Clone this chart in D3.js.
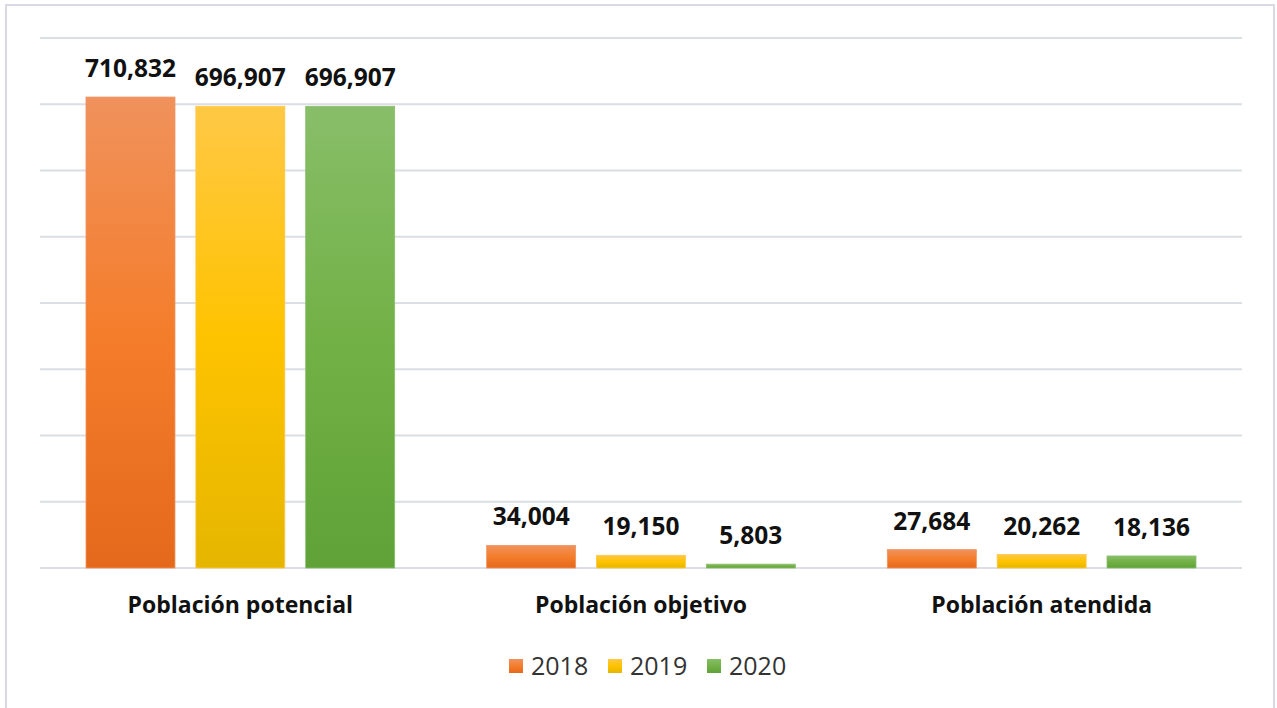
<!DOCTYPE html>
<html><head><meta charset="utf-8">
<script src="https://cdn.jsdelivr.net/npm/d3@7"></script>
<style>body{margin:0;background:#fff;}svg{display:block;}</style>
</head><body>
<svg id="c" width="1277" height="708"></svg>
<script>
const categories = ["Población potencial", "Población objetivo", "Población atendida"];
const years = ["2018", "2019", "2020"];
const values2018 = [710832, 34004, 27684];
const values2019 = [696907, 19150, 20262];
const values2020 = [696907, 5803, 18136];
const yTicks = [0,100000,200000,300000,400000,500000,600000,700000,800000];
const seriesValues = [values2018, values2019, values2020];
const colors = [
  ["#F0925C","#F47D2B","#E5691C"],
  ["#FFC845","#FEC300","#E5B600"],
  ["#88BE69","#72B146","#60A238"]
];
const svg = d3.select("#c");
const font = "'Open Sans', 'Noto Sans', sans-serif";
svg.append("rect").attr("x",6).attr("y",5).attr("width",1268).attr("height",710)
  .attr("fill","#fff").attr("stroke","#D9DAE3").attr("stroke-width",2);
const defs = svg.append("defs");
colors.forEach((c,i)=>{
  const g = defs.append("linearGradient").attr("id","g"+i).attr("x1",0).attr("y1",0).attr("x2",0).attr("y2",1);
  g.append("stop").attr("offset","0%").attr("stop-color",c[0]);
  g.append("stop").attr("offset","50%").attr("stop-color",c[1]);
  g.append("stop").attr("offset","100%").attr("stop-color",c[2]);
});
const x0 = d3.scaleBand().domain(categories).range([40,1242]).paddingInner(0).paddingOuter(0);
const x1 = d3.scaleBand().domain(years).range([46, x0.bandwidth()-46]).paddingInner(0.19).paddingOuter(0);
const y = d3.scaleLinear().domain([0,800000]).range([568,38]);
const grid = svg.append("g");
grid.selectAll("line").data(yTicks).join("line")
  .attr("x1",40).attr("x2",1242).attr("y1",d=>y(d)).attr("y2",d=>y(d))
  .attr("stroke","#DCDEE6").attr("stroke-width",2);
const groups = svg.append("g").selectAll("g").data(categories).join("g")
  .attr("transform",d=>`translate(${x0(d)},0)`);
groups.each(function(cat,ci){
  const g = d3.select(this);
  years.forEach((yr,si)=>{
    const v = seriesValues[si][ci];
    g.append("rect").attr("x",x1(yr)).attr("width",x1.bandwidth())
      .attr("y",y(v)).attr("height",y(0)-y(v))
      .attr("fill",`url(#g${si})`).attr("stroke",colors[si][0]).attr("stroke-width",0.8);
    g.append("text").attr("x",x1(yr)+x1.bandwidth()/2).attr("y",y(v)-20)
      .attr("text-anchor","middle").attr("font-family",font).attr("font-weight","bold")
      .attr("font-size",24.5).attr("fill","#111").text(d3.format(",")(v));
  });
  g.append("text").attr("x",x0.bandwidth()/2).attr("y",613).attr("text-anchor","middle")
    .attr("font-family",font).attr("font-weight","bold").attr("font-size",23).attr("fill","#111").text(cat);
});
const legX = [509, 608, 707];
const leg = svg.append("g");
years.forEach((yr,i)=>{
  leg.append("rect").attr("x",legX[i]).attr("y",659).attr("width",14).attr("height",14).attr("fill",`url(#g${i})`);
  leg.append("text").attr("x",legX[i]+22).attr("y",675).attr("font-family",font)
    .attr("font-size",25).attr("fill","#333").text(yr);
});
</script>
</body></html>
